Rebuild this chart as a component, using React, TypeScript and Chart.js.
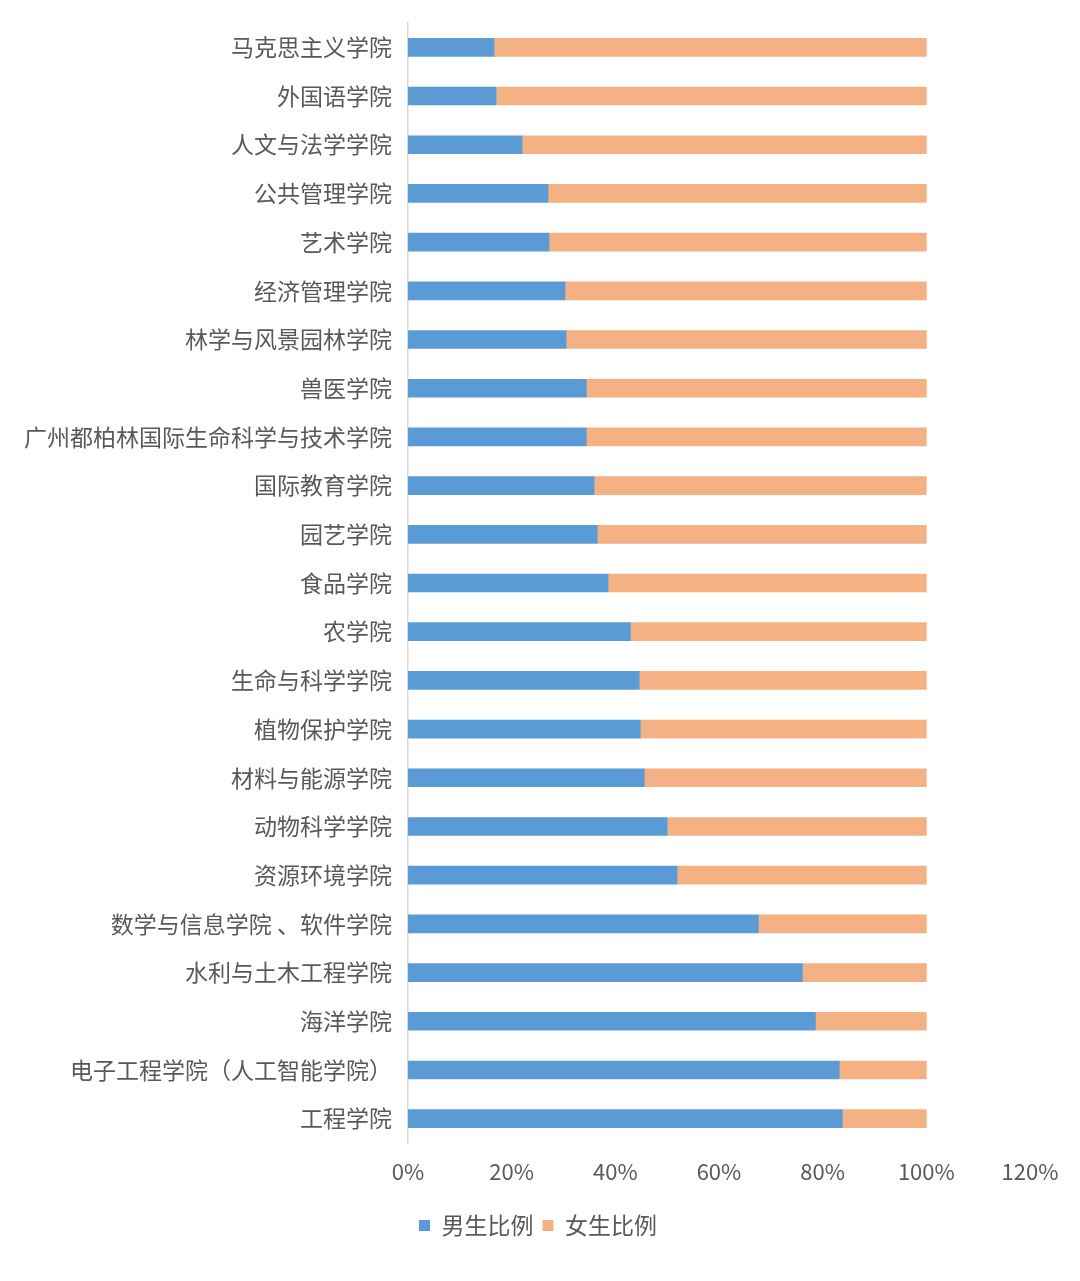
import React, { useEffect, useRef } from "react";
import { Chart, registerables } from "chart.js";

Chart.register(...registerables);

const categories = [
  "马克思主义学院",
  "外国语学院",
  "人文与法学学院",
  "公共管理学院",
  "艺术学院",
  "经济管理学院",
  "林学与风景园林学院",
  "兽医学院",
  "广州都柏林国际生命科学与技术学院",
  "国际教育学院",
  "园艺学院",
  "食品学院",
  "农学院",
  "生命与科学学院",
  "植物保护学院",
  "材料与能源学院",
  "动物科学学院",
  "资源环境学院",
  "数学与信息学院 、软件学院",
  "水利与土木工程学院",
  "海洋学院",
  "电子工程学院（人工智能学院）",
  "工程学院",
];

const maleRatio = [
  16.6, 17.0, 22.0, 27.0, 27.2, 30.3, 30.5, 34.4, 34.4, 35.9, 36.5, 38.6, 42.9,
  44.6, 44.8, 45.6, 50.0, 51.9, 67.6, 76.1, 78.6, 83.2, 83.8,
];

const femaleRatio = maleRatio.map((v) => Math.round((100 - v) * 10) / 10);

const xTicks = [0, 20, 40, 60, 80, 100, 120];

const seriesNames = ["男生比例", "女生比例"];

const FONT = "'Noto Sans CJK SC', 'Noto Sans', sans-serif";

const legendShift = {
  id: "legendShift",
  afterLayout(chart: any) {
    const lg = chart.legend;
    if (lg) {
      lg.left += 23;
      lg.right += 23;
    }
  },
};

export default function App() {
  const ref = useRef<HTMLCanvasElement | null>(null);

  useEffect(() => {
    if (!ref.current) return;
    const chart = new Chart(ref.current, {
      type: "bar",
      data: {
        labels: categories,
        datasets: [
          {
            label: seriesNames[0],
            data: maleRatio,
            backgroundColor: "#5B9BD5",
            barThickness: 18,
          },
          {
            label: seriesNames[1],
            data: femaleRatio,
            backgroundColor: "#F4B183",
            barThickness: 18,
          },
        ],
      },
      plugins: [legendShift],
      options: {
        indexAxis: "y",
        responsive: false,
        animation: false,
        devicePixelRatio: 1,
        layout: { padding: { top: 23, right: 50, bottom: 34, left: 0 } },
        scales: {
          x: {
            stacked: true,
            min: 0,
            max: xTicks[xTicks.length - 1],
            afterBuildTicks: (scale: any) => {
              scale.ticks = xTicks.map((v) => ({ value: v }));
            },
            grid: { display: false, drawTicks: false },
            border: { display: false },
            ticks: {
              padding: 15,
              color: "#595959",
              font: { family: FONT, size: 22 },
              callback: (v: any) => v + "%",
            },
            afterFit: (scale: any) => {
              scale.height = 62;
              scale.paddingLeft = 0;
              scale.paddingRight = 0;
            },
          },
          y: {
            stacked: true,
            grid: { display: false, drawTicks: false },
            border: { display: true, color: "#D9D9D9", width: 1.5 },
            ticks: {
              padding: 16,
              color: "#595959",
              font: { family: FONT, size: 23 },
              autoSkip: false,
            },
            afterFit: (scale: any) => {
              scale.width = 408;
              scale.paddingTop = 0;
              scale.paddingBottom = 0;
            },
          },
        },
        plugins: {
          legend: {
            position: "bottom",
            labels: {
              boxWidth: 11,
              boxHeight: 11,
              padding: 9,
              color: "#595959",
              font: { family: FONT, size: 23 },
            },
          },
          tooltip: { enabled: false },
        },
      },
    });
    return () => chart.destroy();
  }, []);

  return (
    <div style={{ position: "absolute", left: 0, top: 0, width: 1080, height: 1281, background: "#fff" }}>
      <canvas ref={ref} width={1080} height={1281} />
    </div>
  );
}
